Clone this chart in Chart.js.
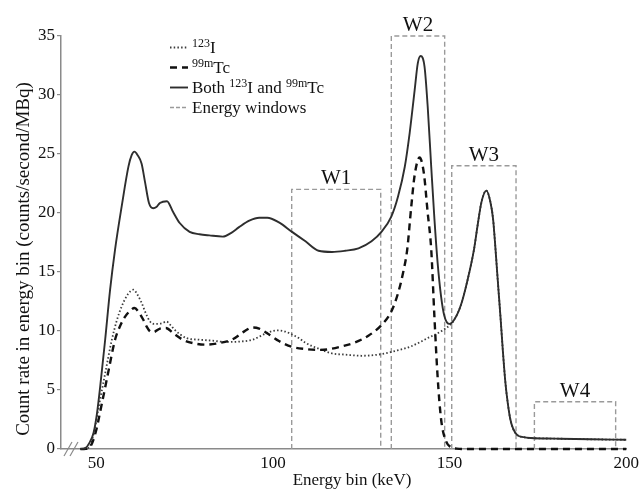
<!DOCTYPE html>
<html>
<head>
<meta charset="utf-8">
<script src="https://cdn.jsdelivr.net/npm/chart.js@4.4.1/dist/chart.umd.min.js"></script>
<style>
    html, body { margin: 0; padding: 0; background: #fff; }
    #wrap { width: 643px; height: 491px; }
</style>
</head>
<body>
<div id="wrap"><canvas id="spectrum" width="643" height="491"></canvas></div>
<script>
// 能谱数据: 能量 (keV) 与计数率 (counts/second/MBq)
const bothKeV = [45.5, 46.9, 48, 49.2, 50.2, 51.1, 52.5, 53.9, 55.3, 57.2, 59.1, 60, 60.8, 61.7, 62.8, 63.8, 64.9, 66.1, 67, 68,
    70, 71.7, 73.6, 76.4, 79.2, 82, 85.8, 88.1, 90.4, 93.3, 96.1, 98.4, 101.7, 105.4, 109.2, 112.9, 116.7,
    120.4, 124.2, 127.9, 130.7, 133.5, 135.4, 137.3, 138.7, 140.1, 141, 141.8, 142.9, 143.8, 144.8, 145.7, 146.6, 147.6, 148.5, 149.9, 151.3,
    153.2, 155.1, 156.9, 157.9, 159, 160.4, 161.5, 162.3, 163, 163.7, 164.4, 165.1, 165.8, 166.5, 167.2, 168, 169.1, 171, 173, 180, 190, 200];
const bothRate = [0, 0.08, 0.5, 1.36, 3.05, 5.3, 9.26, 13.5, 16.9, 20.6, 23.95, 24.9, 25.2, 24.9, 24.2, 22.6, 20.85, 20.4, 20.5, 20.85,
    21.0, 20.1, 19.15, 18.4, 18.2, 18.1, 18.0, 18.3, 18.8, 19.35, 19.6, 19.6, 19.2, 18.4, 17.6, 16.8, 16.7,
    16.8, 17.0, 17.6, 18.4, 19.7, 21.4, 23.9, 26.8, 30.4, 32.7, 33.3, 32.4, 29.0, 23.9, 19.5, 15.8, 12.9, 11.3, 10.6, 10.95,
    12.2, 14.35, 16.9, 18.9, 20.9, 21.9, 21.0, 19.5, 16.9, 14, 11.2, 8.2, 5.6, 3.8, 2.5, 1.7, 1.2, 1.0, 0.93, 0.88, 0.82, 0.78];

const iodineKeV = [45.5, 46.5, 47.8, 49.2, 50.7, 52.5, 54.4, 55.8, 57.2, 58.9, 60.5, 61.6, 62.8, 64, 65.2, 66.3, 67, 68.5, 69.9,
    71, 72.2, 73.8, 75.5, 79.2, 83, 86.7, 90.4, 94.2, 96, 98, 100, 101.7, 103.5, 105.4,
    107.3, 109.2, 112.9, 116.7, 120.4, 125.1, 129.8, 134.5, 139.1, 143.8, 147.6, 150.4, 151.3, 153.2, 155.1, 156.9, 157.9, 159, 160.4, 161.5,
    162.3, 163, 163.7, 164.4, 165.1, 165.8, 166.5, 167.2, 168, 169.1, 171, 173, 180, 190, 200];
const iodineRate = [0, 0.02, 0.1, 1.2, 3.6, 6.4, 9.26, 10.9, 12.1, 13.1, 13.5, 13.1, 12.4, 11.5, 10.8, 10.6, 10.6, 10.65, 10.8,
    10.5, 10.1, 9.7, 9.4, 9.26, 9.18, 9.07, 9.1, 9.26, 9.5, 9.8, 10.0, 10.05, 9.95, 9.7,
    9.4, 9.0, 8.5, 8.1, 8.0, 7.9, 8.0, 8.3, 8.7, 9.4, 9.97, 10.6, 10.95, 12.2, 14.35, 16.9, 18.9, 20.9, 21.9, 21.0,
    19.5, 16.9, 14, 11.2, 8.2, 5.6, 3.8, 2.5, 1.7, 1.2, 1.0, 0.93, 0.88, 0.82, 0.78];

const techKeV = [45.5, 47, 48.3, 49.8, 51.6, 53.5, 55.3, 56.7, 58.1, 59.5, 60.8, 62, 63.3, 64.2, 65.2, 66.1, 68, 69.7, 71.7,
    74.5, 77.3, 81.1, 84.8, 88.6, 91.9, 94.2, 96.1, 98.9, 101.7, 105.4, 109.2, 112.9, 115.7, 119.5,
    123.2, 127, 130.7, 133.5, 135.4, 136.8, 138, 139.1, 140.1, 141.5, 142.7, 143.8, 144.8, 145.7, 146.6, 147.6, 149, 150.4, 152, 155, 200];
const techRate = [0, 0.02, 0.2, 1.4, 3.9, 6.7, 9.26, 10.4, 11.2, 11.7, 11.95, 11.6, 10.95, 10.4, 9.97, 9.9, 10.2, 10.25, 9.83,
    9.26, 8.98, 8.84, 8.98, 9.3, 9.97, 10.3, 10.2, 9.7, 9.15, 8.65, 8.47, 8.4, 8.45, 8.7,
    9.03, 9.6, 10.5, 11.66, 13.2, 14.9, 16.9, 20.4, 23.2, 24.7, 23.4, 20.0, 16.9, 11.2, 6.15, 2.5, 0.65, 0.15, 0.03, 0, 0];

// 能量窗
const windowNames = ['W1', 'W2', 'W3', 'W4'];
const windowStart = [105.3, 133.5, 150.6, 174];
const windowEnd = [130.5, 148.6, 168.8, 197];
const windowTop = [22, 35, 24, 4];

// 坐标轴刻度
const xTicks = [50, 100, 150, 200];
const yTicks = [0, 5, 10, 15, 20, 25, 30, 35];

const SERIF = '"Liberation Serif", "DejaVu Serif", serif';

// 图例文字 (上标分段)
const legendText = [
    [{ t: '123', sup: true }, { t: 'I' }],
    [{ t: '99m', sup: true }, { t: 'Tc' }],
    [{ t: 'Both ' }, { t: '123', sup: true }, { t: 'I and ' }, { t: '99m', sup: true }, { t: 'Tc' }],
    [{ t: 'Energy windows' }]
];

const toPoints = (xs, ys) => xs.map((x, i) => ({ x: x, y: ys[i] }));

const curveBase = {
    pointRadius: 0,
    fill: false,
    cubicInterpolationMode: 'monotone',
    clip: 6
};

const iodineSet = Object.assign({}, curveBase, {
    label: '123I', data: toPoints(iodineKeV, iodineRate),
    borderColor: '#3c3c3c', borderWidth: 1.8, borderDash: [1.5, 2.2], order: 2
});
const techSet = Object.assign({}, curveBase, {
    label: '99mTc', data: toPoints(techKeV, techRate),
    borderColor: '#111', borderWidth: 2.4, borderDash: [7, 5], order: 1
});
const bothSet = Object.assign({}, curveBase, {
    label: 'Both', data: toPoints(bothKeV, bothRate),
    borderColor: '#2e2e2e', borderWidth: 1.9, order: 0
});
const windowSets = windowNames.map((name, i) => ({
    label: name,
    data: [
        { x: windowStart[i], y: 0 }, { x: windowStart[i], y: windowTop[i] },
        { x: windowEnd[i], y: windowTop[i] }, { x: windowEnd[i], y: 0 }
    ],
    borderColor: '#9a9a9a', borderWidth: 1.4, borderDash: [5, 3],
    pointRadius: 0, tension: 0, fill: false, clip: 6, order: 3
}));

// 图上的文字: 窗口标签、坐标轴断裂、轴标题、图例
function drawRich(ctx, parts, x, baseline) {
    let cx = x;
    parts.forEach(p => {
        ctx.font = (p.sup ? '12px ' : '17px ') + SERIF;
        ctx.fillText(p.t, cx, p.sup ? baseline - 6 : baseline);
        cx += ctx.measureText(p.t).width;
    });
}

const decorPlugin = {
    id: 'decor',
    afterDraw(chart) {
        const { ctx, chartArea, scales } = chart;
        const x = scales.x, y = scales.y;
        ctx.save();
        ctx.fillStyle = '#111';
        ctx.textBaseline = 'alphabetic';

        // 窗口标签
        ctx.font = '21px ' + SERIF;
        ctx.textAlign = 'center';
        windowNames.forEach((name, i) => {
            const cx = x.getPixelForValue((windowStart[i] + windowEnd[i]) / 2);
            ctx.fillText(name, cx, y.getPixelForValue(windowTop[i]) - 5);
        });

        // x 轴断裂符号
        ctx.strokeStyle = '#8a8a8a';
        ctx.lineWidth = 1.2;
        const by = chartArea.bottom;
        [0, 6].forEach(dx => {
            const bx = chartArea.left + 3 + dx;
            ctx.beginPath();
            ctx.moveTo(bx, by + 7);
            ctx.lineTo(bx + 8, by - 7);
            ctx.stroke();
        });

        // 轴标题
        ctx.font = '17px ' + SERIF;
        ctx.textBaseline = 'middle';
        ctx.fillText('Energy bin (keV)', 352, 481);
        ctx.save();
        ctx.translate(24, 259);
        ctx.rotate(-Math.PI / 2);
        ctx.font = '19px ' + SERIF;
        ctx.fillText('Count rate in energy bin (counts/second/MBq)', 0, 0);
        ctx.restore();

        // 图例
        const styles = [iodineSet, techSet, bothSet, windowSets[0]];
        const lx = chartArea.left + 109;
        ctx.textAlign = 'left';
        ctx.textBaseline = 'alphabetic';
        styles.forEach((ds, i) => {
            const base = chartArea.top + 16.5 + i * 20;
            ctx.save();
            ctx.strokeStyle = ds.borderColor;
            ctx.lineWidth = ds.borderWidth;
            ctx.setLineDash(i === 3 ? [4, 2] : (ds.borderDash || []));
            ctx.beginPath();
            ctx.moveTo(lx, base - 5);
            ctx.lineTo(lx + 18, base - 5);
            ctx.stroke();
            ctx.restore();
            drawRich(ctx, legendText[i], lx + 22, base);
        });
        ctx.restore();
    }
};

new Chart(document.getElementById('spectrum'), {
    type: 'line',
    data: { datasets: [iodineSet, techSet, bothSet].concat(windowSets) },
    options: {
        responsive: false,
        animation: false,
        devicePixelRatio: 1,
        layout: { padding: { top: 36, right: 13, left: 0, bottom: 0 } },
        plugins: { legend: { display: false }, tooltip: { enabled: false } },
        scales: {
            x: {
                type: 'linear',
                min: 40,
                max: 200,
                afterBuildTicks: s => { s.ticks = xTicks.map(v => ({ value: v })); },
                afterFit: s => { s.height = 42; },
                grid: { display: false, drawTicks: false },
                border: { display: true, color: '#8a8a8a', width: 1.5 },
                ticks: { color: '#111', padding: 4, font: { family: SERIF, size: 17 }, maxRotation: 0 }
            },
            y: {
                min: 0,
                max: 35,
                afterBuildTicks: s => { s.ticks = yTicks.map(v => ({ value: v })); },
                afterFit: s => { s.width = 61; },
                grid: { drawOnChartArea: false, tickLength: 4, color: '#8a8a8a', lineWidth: 1.2 },
                border: { display: true, color: '#8a8a8a', width: 1.5 },
                ticks: { color: '#111', padding: 2, font: { family: SERIF, size: 17 } }
            }
        }
    },
    plugins: [decorPlugin]
});
</script>
</body>
</html>
